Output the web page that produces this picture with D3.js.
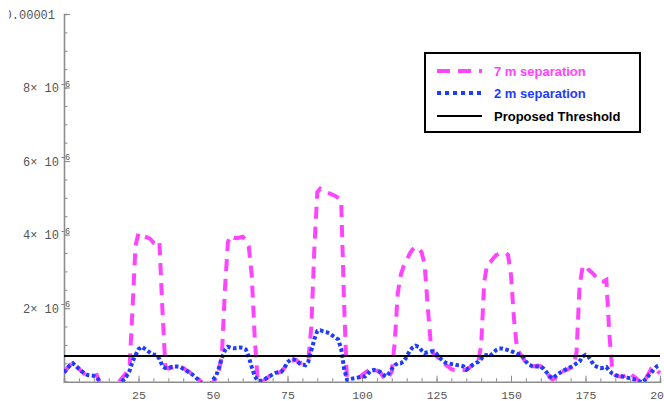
<!DOCTYPE html>
<html>
<head>
<meta charset="utf-8">
<script src="https://cdn.jsdelivr.net/npm/d3@7"></script>
<style>
  html, body { margin: 0; padding: 0; background: #fff; }
  svg { display: block; }
</style>
</head>
<body>
<svg id="chart" width="664" height="401"></svg>
<script>
// Sample positions along the run (0 … 200)
const positions = d3.range(0, 201);

// Field values, in units of 1e-6
const sep7m = [
  0.24, 0.35, 0.45, 0.54, 0.45, 0.35, 0.28, 0.20, 0.14, 0.14,
  0.16, 0.18, -0.05, -0.2, -0.25, -0.25, -0.2, -0.15, -0.05, 0.05,
  0.15, 0.25, 0.40, 2.00, 3.70, 4.04, 4.00, 3.95, 3.92, 3.88,
  3.78, 3.76, 3.83, 2.00, 0.42, 0.36, 0.38, 0.40, 0.41, 0.41,
  0.37, 0.32, 0.27, 0.20, 0.14, 0.08, 0.00, -0.2, -0.25, -0.15,
  -0.02, 0.10, 0.30, 0.75, 2.50, 3.80, 3.98, 3.92, 3.90, 3.92,
  3.94, 3.85, 3.68, 2.90, 1.20, 0.00, -0.05, 0.03, 0.09, 0.15,
  0.20, 0.23, 0.25, 0.27, 0.38, 0.52, 0.56, 0.58, 0.59, 0.50,
  0.52, 0.54, 0.60, 1.50, 3.60, 5.15, 5.25, 5.20, 5.15, 5.12,
  5.09, 5.05, 5.00, 4.94, 2.10, -0.10, -0.20, -0.10, 0.05, 0.10,
  0.18, 0.24, 0.30, 0.35, 0.35, 0.30, 0.27, 0.15, 0.05, 0.15,
  0.27, 1.10, 2.40, 2.90, 3.15, 3.30, 3.48, 3.60, 3.67, 3.62,
  3.52, 3.20, 2.10, 1.10, 0.75, 0.70, 0.62, 0.55, 0.47, 0.40,
  0.34, 0.32, 0.32, 0.32, 0.32, 0.32, 0.38, 0.45, 0.50, 0.54,
  1.00, 2.70, 3.20, 3.25, 3.35, 3.44, 3.48, 3.50, 3.51, 3.45,
  2.90, 1.70, 0.90, 0.76, 0.65, 0.52, 0.46, 0.42, 0.42, 0.44,
  0.42, 0.34, 0.27, 0.12, 0.06, 0.12, 0.25, 0.28, 0.30, 0.33,
  0.38, 0.42, 0.80, 2.60, 3.10, 3.17, 3.05, 2.98, 2.90, 2.78,
  2.73, 2.72, 2.77, 1.30, 0.30, 0.18, 0.15, 0.14, 0.15, 0.20,
  0.25, 0.15, 0.09, 0.02, -0.05, 0.05, 0.20, 0.35, 0.40, 0.30,
  0.23
];

const sep2m = [
  0.25, 0.35, 0.45, 0.50, 0.42, 0.35, 0.28, 0.22, 0.18, 0.17,
  0.16, 0.11, 0.02, -0.1, -0.1, -0.1, -0.1, -0.1, -0.1, -0.05,
  0.05, 0.15, 0.30, 0.55, 0.72, 0.88, 0.95, 0.90, 0.84, 0.78,
  0.74, 0.73, 0.62, 0.43, 0.37, 0.37, 0.40, 0.41, 0.41, 0.40,
  0.35, 0.30, 0.25, 0.20, 0.13, 0.06, -0.05, -0.1, -0.1, -0.1,
  0.05, 0.15, 0.38, 0.65, 0.85, 0.95, 0.92, 0.91, 0.92, 0.93,
  0.92, 0.88, 0.68, 0.40, 0.15, 0.03, 0.02, 0.05, 0.10, 0.15,
  0.20, 0.24, 0.26, 0.28, 0.38, 0.53, 0.60, 0.61, 0.58, 0.50,
  0.47, 0.45, 0.55, 0.85, 1.15, 1.38, 1.40, 1.37, 1.35, 1.32,
  1.26, 1.20, 1.15, 0.90, 0.35, 0.05, 0.07, 0.09, 0.10, 0.12,
  0.14, 0.14, 0.22, 0.30, 0.32, 0.30, 0.27, 0.20, 0.14, 0.22,
  0.35, 0.45, 0.50, 0.50, 0.55, 0.68, 0.84, 0.93, 0.98, 0.95,
  0.85, 0.78, 0.80, 0.82, 0.82, 0.76, 0.65, 0.58, 0.52, 0.50,
  0.48, 0.47, 0.45, 0.44, 0.42, 0.33, 0.38, 0.45, 0.50, 0.54,
  0.62, 0.73, 0.72, 0.70, 0.78, 0.86, 0.90, 0.90, 0.88, 0.86,
  0.83, 0.80, 0.76, 0.74, 0.68, 0.55, 0.46, 0.43, 0.41, 0.41,
  0.41, 0.35, 0.25, 0.15, 0.09, 0.16, 0.22, 0.27, 0.32, 0.36,
  0.40, 0.44, 0.50, 0.55, 0.68, 0.73, 0.68, 0.55, 0.44, 0.40,
  0.37, 0.38, 0.40, 0.30, 0.22, 0.18, 0.16, 0.15, 0.13, 0.11,
  0.09, 0.07, 0.05, 0.01, -0.02, 0.05, 0.15, 0.24, 0.34, 0.42,
  0.45
];

// Proposed threshold (units of 1e-6)
const threshold = 0.7;

// Axis ticks
const xTicks = [25, 50, 75, 100, 125, 150, 175, 200];
const xMinorTicks = d3.range(0, 201, 5);
const yTicks = [2, 4, 6, 8];
const yTickMantissas = ["2\u00d7 10", "4\u00d7 10", "6\u00d7 10", "8\u00d7 10"];
const yTopTick = 10;
const yTopLabel = "0.00001";
const yMinorTicks = d3.range(0, 10.01, 0.5);

const legendLabels = ["7 m separation", "2 m separation", "Proposed Threshold"];

const PINK = "#ff44ff";
const BLUE = "#1e3cff";
const AXIS = "#8c8c8c";
const LABEL = "#555";

const svg = d3.select("#chart");

const x = d3.scaleLinear().domain([0, 200]).range([64, 660]);
const y = d3.scaleLinear().domain([0, 10]).range([381.7, 14]);

const defs = svg.append("defs");
// Clip the curves to the plotted range
defs.append("clipPath").attr("id", "plotClip")
  .append("rect")
  .attr("x", x(0)).attr("y", y(10))
  .attr("width", x(200) - x(0) + 4).attr("height", y(0) - y(10));
// The top label runs off the left edge of the frame
defs.append("clipPath").attr("id", "topLabelClip")
  .append("rect")
  .attr("x", 9).attr("y", 0).attr("width", 60).attr("height", 30);

// Axes: ticks point into the plot
const gx = svg.append("g").attr("transform", `translate(0,${y(0)})`);
gx.call(d3.axisBottom(x).tickValues(xMinorTicks).tickSize(-3.5).tickFormat(""));
gx.selectAll(".tick line").attr("stroke", AXIS);
gx.select(".domain").attr("stroke", AXIS).attr("stroke-width", 1.6);
const gxMajor = svg.append("g").attr("transform", `translate(0,${y(0)})`)
  .call(d3.axisBottom(x).tickValues(xTicks).tickSize(-6).tickPadding(9).tickFormat(d3.format("d")));
gxMajor.select(".domain").remove();
gxMajor.selectAll(".tick line").attr("stroke", AXIS);
gxMajor.selectAll(".tick text")
  .attr("fill", LABEL)
  .attr("font-family", "'Liberation Mono', monospace")
  .attr("font-size", 11.5);

const gy = svg.append("g").attr("transform", `translate(${x(0)},0)`);
gy.call(d3.axisLeft(y).tickValues(yMinorTicks).tickSize(-3.5).tickFormat(""));
gy.selectAll(".tick line").attr("stroke", AXIS);
gy.select(".domain").attr("stroke", AXIS).attr("stroke-width", 1.6);
const gyMajor = svg.append("g").attr("transform", `translate(${x(0)},0)`)
  .call(d3.axisLeft(y).tickValues(yTicks.concat([yTopTick])).tickSize(-6).tickFormat(""));
gyMajor.select(".domain").remove();
gyMajor.selectAll(".tick line").attr("stroke", AXIS);

// Y tick labels in Mathematica-like scientific notation
const yLab = svg.append("g")
  .attr("font-family", "'Liberation Mono', monospace")
  .attr("fill", LABEL);
yTicks.forEach((v, i) => {
  yLab.append("text")
    .attr("x", 59).attr("y", y(v) + 4.5)
    .attr("text-anchor", "end")
    .attr("font-size", 12)
    .text(yTickMantissas[i]);
  yLab.append("text")
    .attr("x", 60).attr("y", y(v) - 1)
    .attr("font-size", 8.5)
    .text("-6");
});
yLab.append("text")
  .attr("x", 55).attr("y", y(yTopTick) + 4.5)
  .attr("text-anchor", "end")
  .attr("font-size", 12)
  .attr("clip-path", "url(#topLabelClip)")
  .text(yTopLabel);

// Series
const line = d3.line()
  .x((d, i) => x(positions[i]))
  .y(d => y(d))
  .curve(d3.curveLinear);

const plot = svg.append("g").attr("clip-path", "url(#plotClip)");

plot.append("path")
  .datum(sep7m)
  .attr("d", line)
  .attr("fill", "none")
  .attr("stroke", PINK)
  .attr("stroke-width", 4)
  .attr("stroke-dasharray", "12,8");

plot.append("path")
  .datum(sep2m)
  .attr("d", line)
  .attr("fill", "none")
  .attr("stroke", BLUE)
  .attr("stroke-width", 4)
  .attr("stroke-dasharray", "3.5,2.5");

plot.append("line")
  .attr("x1", x(0)).attr("x2", x(200))
  .attr("y1", y(threshold)).attr("y2", y(threshold))
  .attr("stroke", "#000")
  .attr("stroke-width", 2);

// Legend
const legend = svg.append("g");
legend.append("rect")
  .attr("x", 425).attr("y", 53)
  .attr("width", 215).attr("height", 79)
  .attr("fill", "#fff")
  .attr("stroke", "#000")
  .attr("stroke-width", 2);

const legendStyles = [
  { color: PINK, dash: "13,8", width: 4, text: PINK },
  { color: BLUE, dash: "4,4", width: 4, text: BLUE },
  { color: "#000", dash: null, width: 2, text: "#000" }
];
const legendRows = [71, 93, 116];
legendLabels.forEach((label, i) => {
  const s = legendStyles[i];
  legend.append("line")
    .attr("x1", 437).attr("x2", 482)
    .attr("y1", legendRows[i]).attr("y2", legendRows[i])
    .attr("stroke", s.color)
    .attr("stroke-width", s.width)
    .attr("stroke-dasharray", s.dash);
  legend.append("text")
    .attr("x", 494).attr("y", legendRows[i] + 4.5)
    .attr("font-family", "'Liberation Sans', Arial, sans-serif")
    .attr("font-weight", "bold")
    .attr("font-size", 13)
    .attr("fill", s.text)
    .text(label);
});
</script>
</body>
</html>
